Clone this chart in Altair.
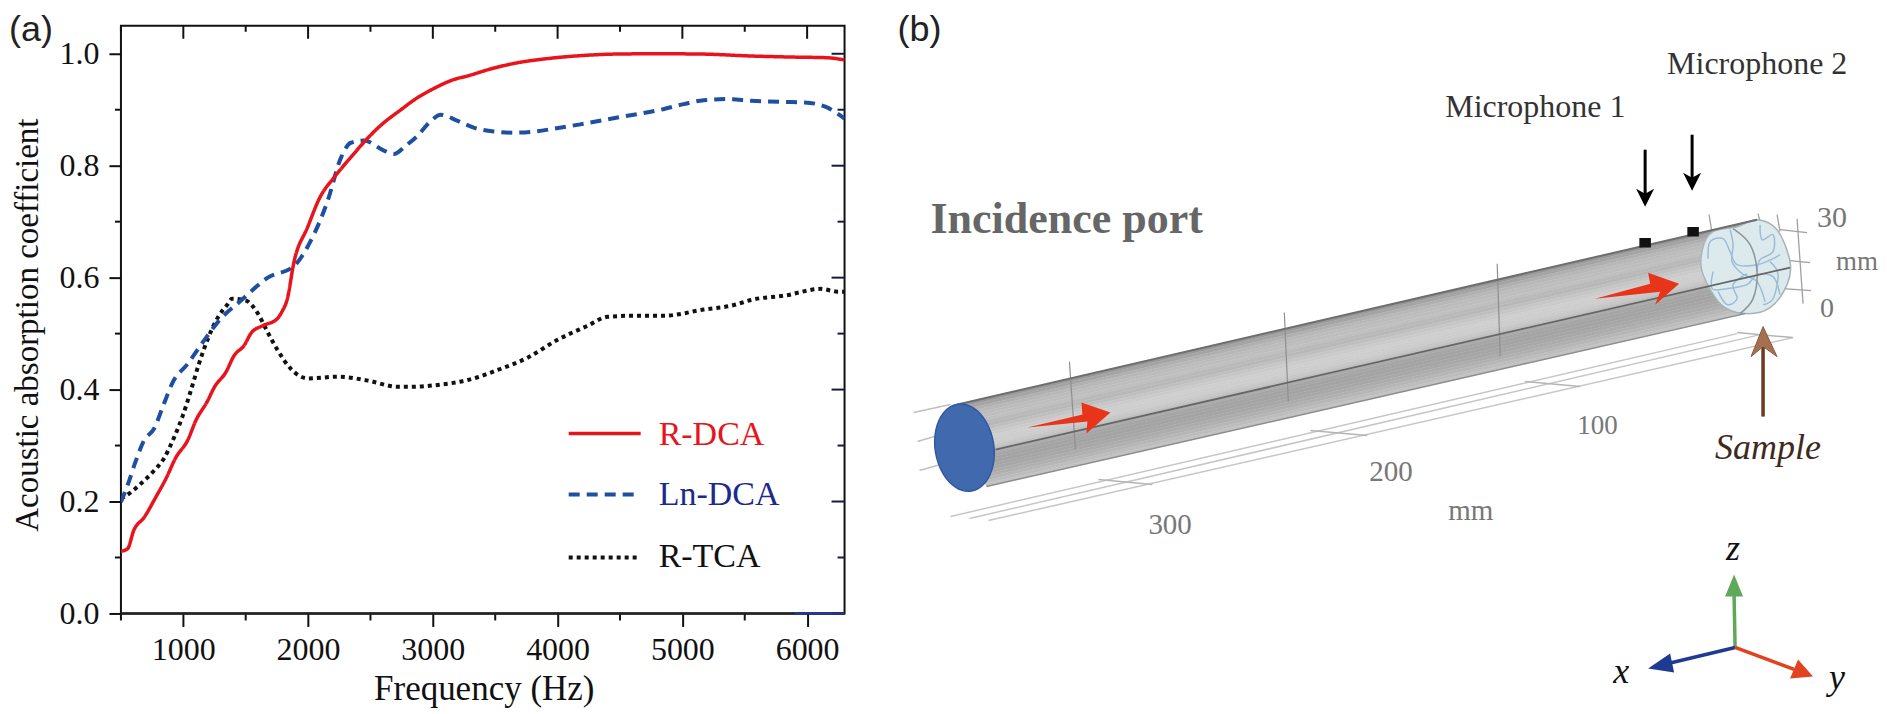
import altair as alt
import pandas as pd

SERIF = "Liberation Serif"
SANS = "Liberation Sans"

# ---------- panel (a) data ----------
r_f = [500,554,602,687,780,861,941,1034,1101,1195,1248,1341,1408,1488,1547,1635,1750,1795,1830,1889,1996,2094,2208,2343,2448,2567,2744,2880,3000,3144,3304,3465,3681,3945,4210,4480,4800,5147,5548,5900,6150,6300]
r_a = [.111,.116,.148,.172,.208,.241,.279,.309,.345,.380,.404,.431,.461,.479,.502,.514,.526,.541,.559,.630,.690,.743,.779,.815,.842,.869,.900,.922,.937,.952,.962,.973,.984,.992,.997,.9995,1.0,.9995,.996,.994,.993,.989]
b_f = [500,553,620,685,765,845,915,1035,1167,1301,1462,1487,1677,1888,2022,2158,2263,2343,2447,2608,2688,2784,2880,2984,3064,3200,3328,3488,3649,3809,3970,4210,4480,4827,5011,5171,5364,5548,5800,5980,6150,6300]
b_a = [.199,.229,.273,.309,.330,.375,.413,.446,.488,.527,.559,.564,.600,.621,.666,.738,.814,.841,.845,.827,.821,.836,.854,.880,.891,.880,.868,.861,.859,.861,.866,.875,.886,.900,.910,.917,.919,.916,.914,.913,.905,.884]
k_f = [500,565,660,765,845,925,995,1060,1125,1197,1277,1357,1390,1502,1597,1677,1757,1862,1998,2246,2479,2720,2824,3064,3280,3520,3760,4000,4240,4400,4611,4851,5171,5412,5548,5869,5925,6109,6245,6300]
k_a = [.205,.214,.232,.255,.277,.314,.353,.398,.446,.491,.529,.553,.5625,.559,.536,.502,.470,.437,.420,.423,.416,.405,.405,.409,.417,.435,.457,.489,.514,.530,.532,.532,.543,.551,.560,.570,.573,.580,.575,.575]
x_major = [1000,2000,3000,4000,5000,6000]
x_minor = [500,1500,2500,3500,4500,5500]
y_major = [0.0,0.2,0.4,0.6,0.8,1.0]
y_minor = [0.1,0.3,0.5,0.7,0.9]
legend_names = ["R-DCA","Ln-DCA","R-TCA"]
legend_colors = ["#e8141c","#1f4fa0","#111111"]
legend_text_colors = ["#e8141c","#1c2a8c","#111111"]
legend_dash = [[1,0],[11,7],[4,4]]
legend_y = [408,469,532]
legend_x2 = [520,515,518]
legend_base = [419,479,542]

PW, PH = 724, 588
sxa = alt.Scale(domain=[500,6300], nice=False, zero=False)
sya = alt.Scale(domain=[0,1.05], nice=False, zero=False)

def curve(f, a, color, width, dash):
    d = pd.DataFrame({"f":f,"a":a})
    return alt.Chart(d).mark_line(color=color, strokeWidth=width, strokeDash=dash, interpolate="monotone", clip=True).encode(
        x=alt.X("f:Q", scale=sxa), y=alt.Y("a:Q", scale=sya))

base_axes = alt.Chart(pd.DataFrame({"f":[500],"a":[0.0]})).mark_point(opacity=0).encode(
    x=alt.X("f:Q", scale=sxa, axis=alt.Axis(values=x_major, format="d", title="Frequency (Hz)", grid=False, domain=False,
        tickSize=13, tickWidth=2, tickColor="#111", labelFont=SERIF, labelFontSize=32, labelColor="#111", labelPadding=8,
        titleFont=SERIF, titleFontSize=35, titleFontWeight="normal", titleColor="#111",
        titleX=363, titleY=86, titleBaseline="alphabetic", labelOverlap=False, labelFlush=False)),
    y=alt.Y("a:Q", scale=sya, axis=alt.Axis(values=y_major, format=".1f", title="Acoustic absorption coefficient", grid=False, domain=False,
        tickSize=12, tickWidth=2, tickColor="#111", labelFont=SERIF, labelFontSize=32, labelColor="#111", labelPadding=10,
        titleFont=SERIF, titleFontSize=33, titleFontWeight="normal", titleColor="#111",
        titleX=-83, titleY=299, titleBaseline="alphabetic", titleAngle=270, labelOverlap=False)))

def vrules(vals, y1, y2, color="#111"):
    return alt.Chart(pd.DataFrame({"f":vals})).mark_rule(color=color, strokeWidth=2).encode(
        x=alt.X("f:Q", scale=sxa), y=alt.value(y1), y2=alt.value(y2))
def hrules(vals, x1, x2, color="#111"):
    return alt.Chart(pd.DataFrame({"a":vals})).mark_rule(color=color, strokeWidth=2).encode(
        y=alt.Y("a:Q", scale=sya), x=alt.value(x1), x2=alt.value(x2))

left_layers = [base_axes,
    vrules(x_major,0,13), vrules(x_minor,0,6), vrules(x_minor,PH,PH+7),
    hrules(y_major,PW-13,PW,"#161a40"), hrules(y_minor,PW-7,PW,"#161a40"), hrules(y_minor,-6,0),
    alt.Chart(pd.DataFrame({"a":[0.0]})).mark_rule(color="#222", strokeWidth=2.5).encode(y=alt.Y("a:Q",scale=sya)),
    alt.Chart(pd.DataFrame({"f":[5900],"f2":[6300],"a":[0.0]})).mark_rule(color="#1f35c8", strokeWidth=1.5).encode(
        x=alt.X("f:Q",scale=sxa), x2="f2:Q", y=alt.Y("a:Q",scale=sya)),
    curve(k_f,k_a,"#111111",4,[4,4]),
    curve(b_f,b_a,"#1f4fa0",4,[11,7]),
    curve(r_f,r_a,"#e8141c",3.5,[1,0]),
]
for i,n in enumerate(legend_names):
    d = pd.DataFrame({"n":[n]})
    left_layers.append(alt.Chart(d).mark_rule(color=legend_colors[i], strokeWidth=3.5 if i==0 else 4, strokeDash=legend_dash[i]).encode(
        x=alt.value(448), x2=alt.value(legend_x2[i]), y=alt.value(legend_y[i])))
    left_layers.append(alt.Chart(d).mark_text(font=SERIF, fontSize=34, color=legend_text_colors[i], align="left", baseline="alphabetic").encode(
        x=alt.value(538), y=alt.value(legend_base[i]), text="n:N"))
left_layers.append(alt.Chart(pd.DataFrame({"n":["(a)"]})).mark_text(font=SANS, fontSize=36, color="#222", align="left", baseline="alphabetic").encode(
    x=alt.value(-112), y=alt.value(15), text="n:N"))
left = alt.layer(*left_layers).properties(width=PW, height=PH, view=alt.ViewBackground(stroke="#111", strokeWidth=2))

# ---------- panel (b) schematic, in picture coordinates ----------
X0, RW = 890, 980
Y0, RH = 24, 675
sx = alt.Scale(domain=[X0,X0+RW], nice=False, zero=False)
sy = alt.Scale(domain=[Y0+RH,Y0], nice=False, zero=False)

def shape(pts, fill=None, stroke=None, width=1.0, interp="linear", opacity=1.0):
    d = pd.DataFrame({"x":[p[0] for p in pts],"y":[p[1] for p in pts],"i":list(range(len(pts)))})
    kw = dict(interpolate=interp, strokeWidth=width, opacity=opacity, clip=False, stroke=stroke or "transparent")
    if fill: kw["fill"] = fill
    return alt.Chart(d).mark_line(**kw).encode(
        x=alt.X("x:Q", scale=sx, axis=None), y=alt.Y("y:Q", scale=sy, axis=None), order=alt.Order("i:Q"))

def label(s, x, y, size, color, font=SERIF, style="normal", weight="normal", align="left"):
    d = pd.DataFrame({"x":[x],"y":[y],"t":[s]})
    return alt.Chart(d).mark_text(font=font, fontSize=size, color=color, fontStyle=style, fontWeight=weight, align=align, baseline="alphabetic").encode(
        x=alt.X("x:Q", scale=sx, axis=None), y=alt.Y("y:Q", scale=sy, axis=None), text="t:N")

cyl_top = [(957,403),(1757,218)]
cyl_bot = [(986,485),(1745,312)]
cyl_shades = ["#989898","#a4a4a4","#b0b0b0","#b8b8b8","#bcbcbc","#bebebe","#c0c0c0","#bababa","#b8b8b8","#bfbfbf","#c6c6c6","#cbcbcb","#cfcfcf","#cecece","#cdcdcd","#c8c8c8","#c0c0c0","#acacac","#a6a6a6","#a4a4a4","#a4a4a4","#a6a6a6","#a8a8a8","#acacac","#b0b0b0","#b6b6b6","#bdbdbd","#c2c2c2"]
ring_ticks = [[(1069,360),(1075,448)],[(1284,311),(1288,400)],[(1497,262),(1500,355)]]
left_stubs = [[(913,411),(950,403)],[(917,440),(937,434)],[(919,469),(940,463)]]
rails = [[(950,515),(1737,332)],[(969,517),(1760,333)],[(988,519),(1793,336)]]
rail_ticks = [[(1098,478),(1152,483)],[(1310,429),(1367,434)],[(1525,380),(1580,385)],[(1737,331),(1793,336)]]
end_grid = [[(1709,213),(1712,232)],[(1758,212),(1760,220)],[(1777,213),(1780,230)],[(1797,217),(1803,302)],
            [(1780,228),(1807,231)],[(1790,259),(1810,261)],[(1783,287),(1811,289)]]
port_outline = [(957,402.6),(972.4,406),(985.6,420.2),(993,441.3),(992.6,463.6),(984.6,481.2),(971,489.4),(955.6,486),(942.4,471.8),(935,450.7),(935.4,428.4),(943.4,410.8)]
sample_outline = [(1757,218),(1777,228),(1790,260),(1787,283),(1770,306),(1745,312),(1721,303),(1702,270),(1703,245),(1713,230),(1737,225)]
sample_arc = [(1733,227),(1750,243),(1757,270),(1753,297),(1740,312)]
fibres = [
 [(1708,257),(1710,240),(1723,237),(1730,250),(1737,263),(1757,263),(1773,257),(1780,253)],
 [(1730,228),(1733,243),(1732,260),(1742,272),(1757,280),(1765,300)],
 [(1713,270),(1712,287),(1727,287),(1747,283),(1757,273),(1773,275),(1780,293)],
 [(1760,223),(1762,238),(1773,233),(1773,250),(1760,258),(1757,270)],
 [(1718,290),(1727,303),(1737,297),(1733,283),(1747,272)],
 [(1770,260),(1778,273),(1773,297),(1763,303)],
]
red_arrows = [[(1027,426),(1082,413),(1081,401),(1110,411),(1086,432),(1087,420)],
              [(1595,297),(1650,282),(1648,271),(1679,282),(1655,303),(1660,290)]]
mic_stems = [[(1645,148),(1645,195)],[(1692,133),(1692,179)]]
mic_heads = [[(1636,187),(1645,205),(1654,187),(1645,192)],[(1683,171),(1692,189),(1701,171),(1692,176)]]
mic_dots = [[(1640,237),(1650,237),(1650,245),(1640,245)],[(1688,226),(1698,226),(1698,234),(1688,234)]]
triad = [("#5fa85a",(1735,646),(1734,593),[(1725,595),(1734,573),(1743,595)]),
         ("#1f3a93",(1735,646),(1668,662),[(1670,652),(1648,667),(1674,671)]),
         ("#e2431e",(1735,646),(1794,668),[(1798,658),(1813,675),(1790,677)])]

right_layers = []
for s in rails: right_layers.append(shape(s, stroke="#c6c6c6", width=1.5))
for s in rail_ticks: right_layers.append(shape(s, stroke="#b5b5b5", width=1.5))
for s in left_stubs: right_layers.append(shape(s, stroke="#c0c0c0", width=1.5))
for s in end_grid: right_layers.append(shape(s, stroke="#a0a0a0", width=1.3))

n = len(cyl_shades)
def mix(a,b,t): return (a[0]+(b[0]-a[0])*t, a[1]+(b[1]-a[1])*t)
for i,c in enumerate(cyl_shades):
    t0,t1 = i/n,(i+1)/n
    right_layers.append(shape([mix(cyl_top[0],cyl_bot[0],t0),mix(cyl_top[1],cyl_bot[1],t0),
                               mix(cyl_top[1],cyl_bot[1],t1),mix(cyl_top[0],cyl_bot[0],t1)],
                              fill=c, stroke=c, width=0.5, interp="linear-closed"))
for s in ring_ticks: right_layers.append(shape(s, stroke="#8f8f8f", width=1.2))
right_layers.append(shape(sample_outline, fill="#dce9ed", stroke="#a9b4b6", width=1.5, interp="cardinal-closed"))
for s in fibres: right_layers.append(shape(s, stroke="#9dbcd8", width=1.5, interp="cardinal"))
right_layers.append(shape(sample_arc, stroke="#8f9496", width=1.5, interp="cardinal"))
right_layers.append(shape(cyl_top, stroke="#6e6e6e", width=2))
right_layers.append(shape(cyl_bot, stroke="#8d8d8d", width=1.5))
right_layers.append(shape([(995,448),(1790,266)], stroke="#666666", width=1.8))
right_layers.append(shape(port_outline, fill="#4169ae", stroke="#2f5aa0", width=1.5, interp="cardinal-closed"))
for s in red_arrows: right_layers.append(shape(s, fill="#e8351a", interp="linear-closed"))
for s in mic_stems: right_layers.append(shape(s, stroke="#000000", width=3))
for s in mic_heads: right_layers.append(shape(s, fill="#000000", interp="linear-closed"))
for s in mic_dots: right_layers.append(shape(s, fill="#111111", stroke="#111111", width=1.5, interp="linear-closed"))
right_layers.append(shape([(1763,415),(1763,345)], stroke="#6b3a20", width=3.5))
right_layers.append(shape([(1763,325),(1777,355),(1763,345),(1751,355)], fill="#a5704f", stroke="#8a5a3a", width=1, interp="linear-closed"))
for col,a,b,head in triad:
    right_layers.append(shape([a,b], stroke=col, width=3.5))
    right_layers.append(shape(head, fill=col, interp="linear-closed"))

panel_texts = [("(b)",897,39,36,"#222",SANS,"normal","normal"),
 ("Incidence port",930,231,44,"#666666",SERIF,"normal","bold"),
 ("Microphone 1",1445,115,32,"#333333",SERIF,"normal","normal"),
 ("Microphone 2",1667,72,32,"#333333",SERIF,"normal","normal"),
 ("30",1817,225,30,"#777777",SERIF,"normal","normal"),
 ("mm",1836,268,27,"#777777",SERIF,"normal","normal"),
 ("0",1820,315,28,"#777777",SERIF,"normal","normal"),
 ("100",1577,432,27,"#777777",SERIF,"normal","normal"),
 ("200",1369,479,29,"#777777",SERIF,"normal","normal"),
 ("300",1148,532,29,"#777777",SERIF,"normal","normal"),
 ("mm",1448,518,29,"#777777",SERIF,"normal","normal"),
 ("Sample",1715,457,36,"#3e2a1c",SERIF,"italic","normal"),
 ("z",1726,559,36,"#111111",SERIF,"italic","normal"),
 ("x",1613,682,36,"#111111",SERIF,"italic","normal"),
 ("y",1829,688,36,"#111111",SERIF,"italic","normal")]
for s,x,y,size,col,font,sty,w in panel_texts:
    right_layers.append(label(s,x,y,size,col,font,sty,w))

right = alt.layer(*right_layers).properties(width=RW, height=RH, view=alt.ViewBackground(stroke="transparent"))

chart = alt.hconcat(left, right, spacing=46, bounds="flush").properties(
    padding={"left":0,"top":2.6,"right":0,"bottom":0}, background="white")
chart.save("out.html", embed_options={"renderer": "svg", "actions": False})
